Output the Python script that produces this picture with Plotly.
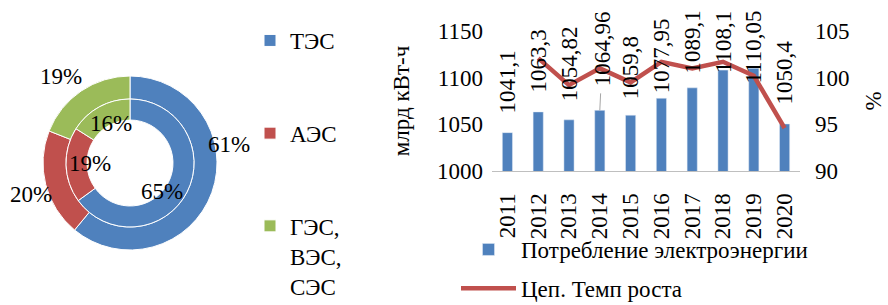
import plotly.graph_objects as go

# ---- data ----
pie_labels = ["ТЭС", "АЭС", "ГЭС,<br>ВЭС,<br>СЭС"]
pie_outer = [61, 20, 19]
pie_inner = [65, 19, 16]

years = ["2011", "2012", "2013", "2014", "2015", "2016", "2017", "2018", "2019", "2020"]
consumption = [1041.1, 1063.3, 1054.82, 1064.96, 1059.8, 1077.95, 1089.1, 1108.1, 1110.05, 1050.4]
consumption_text = ["1041,1", "1063,3", "1054,82", "1064,96", "1059,8", "1077,95", "1089,1", "1108,1", "1110,05", "1050,4"]
growth = [None, 102.1, 99.2, 101.0, 99.5, 101.7, 101.0, 101.7, 100.2, 94.6]

# ---- layout / style settings ----
W, H = 888, 305
FONT = "Liberation Serif"
FS = 23
BLUE, RED, GREEN = "#4F81BD", "#C0504D", "#9BBB59"
# vertical pixel gap of each bar's data label above its bar (as placed in the original)
label_gap = [17, 17, 16, 20, 14, 3, 12, -5, -17, 17]

def px(x):
    return x / W

def py(y):
    return 1 - y / H

fig = go.Figure()

# Donut: centre (130,163), outer ring r 64..87, inner ring r 43..64
cx, cy = 130, 163
ro, rm, ri = 87, 64, 43
legend_labels = [l if "<br>" in l else l + "<br> <br> " for l in pie_labels]
fig.add_trace(go.Pie(
    labels=legend_labels, values=pie_outer, sort=False, direction="clockwise",
    hole=rm / ro, textinfo="none", hoverinfo="label+percent",
    marker=dict(colors=[BLUE, RED, GREEN], line=dict(color="white", width=1)),
    domain=dict(x=[px(cx - ro), px(cx + ro)], y=[py(cy + ro), py(cy - ro)]),
    legend="legend2", showlegend=True,
))
fig.add_trace(go.Pie(
    labels=legend_labels, values=pie_inner, sort=False, direction="clockwise",
    hole=ri / rm, textinfo="none", hoverinfo="label+percent",
    marker=dict(colors=[BLUE, RED, GREEN], line=dict(color="white", width=1)),
    domain=dict(x=[px(cx - rm), px(cx + rm)], y=[py(cy + rm), py(cy - rm)]),
    legend="legend2", showlegend=False,
))

# percentage labels of the donut
outer_pos = [(229, 144), (31, 194), (61, 77)]
inner_pos = [(162, 191), (90, 163), (111, 123)]
for v, (x, y) in list(zip(pie_outer, outer_pos)) + list(zip(pie_inner, inner_pos)):
    fig.add_annotation(x=px(x), y=py(y), xref="paper", yref="paper", text=f"{v}%",
                       xanchor="center", yanchor="middle",
                       showarrow=False, font=dict(family=FONT, size=FS, color="black"))

# Bar + line chart
fig.add_trace(go.Bar(
    x=years, y=consumption, name="Потребление электроэнергии",
    marker=dict(color=BLUE), width=0.33, legend="legend", legendgroup="a",
))
fig.add_trace(go.Scatter(
    x=years, y=growth, name="Цеп. Темп роста", mode="lines", yaxis="y2",
    line=dict(color=RED, width=4.5), legend="legend", legendgroup="b",
))
for i, (yv, t) in enumerate(zip(consumption, consumption_text)):
    if i == 3:
        # label moved off its bar, with a leader line
        fig.add_annotation(x=i, y=yv, xref="x", yref="y", text=t, textangle=-90,
                           showarrow=True, arrowhead=0, arrowwidth=1,
                           arrowcolor="#A6A6A6", ax=3, ay=-62, startstandoff=6,
                           font=dict(family=FONT, size=FS, color="black"))
    else:
        fig.add_annotation(x=i, y=yv, xref="x", yref="y", text=t, textangle=-90,
                           showarrow=False, yanchor="bottom", yshift=label_gap[i],
                           font=dict(family=FONT, size=FS, color="black"))

ydom = [py(171), py(31)]
fig.update_layout(
    width=W, height=H, margin=dict(l=0, r=0, t=0, b=0, pad=0, autoexpand=False),
    paper_bgcolor="white", plot_bgcolor="white",
    font=dict(family=FONT, size=FS, color="black"),
    xaxis=dict(domain=[px(492), px(800)], type="category", tickangle=-90,
               range=[-0.5, 9.5], autorange=False, automargin=False,
               showline=True, linecolor="#BFBFBF", linewidth=1, ticks="",
               showgrid=False, ticklabelstandoff=12, tickfont=dict(size=FS)),
    yaxis=dict(domain=ydom, range=[1000, 1150], autorange=False, automargin=False,
               tickvals=[1000, 1050, 1100, 1150],
               showgrid=False, zeroline=False, showline=False, ticks="",
               ticklabelstandoff=8,
               title=dict(text="млрд кВт-ч", standoff=20, font=dict(size=FS))),
    yaxis2=dict(overlaying="y", side="right", range=[90, 105], autorange=False,
                automargin=False,
                tickvals=[90, 95, 100, 105], showgrid=False, zeroline=False,
                showline=False, ticks="", ticklabelstandoff=14,
                title=dict(text="%", standoff=16, font=dict(size=FS))),
    legend=dict(x=px(456), y=py(228), xanchor="left", yanchor="top",
                bgcolor="rgba(0,0,0,0)", font=dict(family=FONT, size=FS),
                itemwidth=55, tracegroupgap=6, maxheight=1.0),
    legend2=dict(x=px(250), y=py(19), xanchor="left", yanchor="top",
                 bgcolor="rgba(0,0,0,0)", font=dict(family=FONT, size=FS),
                 valign="top", traceorder="normal", maxheight=1.0),
    showlegend=True,
)

fig.write_html("out.html", config={"displayModeBar": False},
               post_script="document.body.style.margin='0px';")
